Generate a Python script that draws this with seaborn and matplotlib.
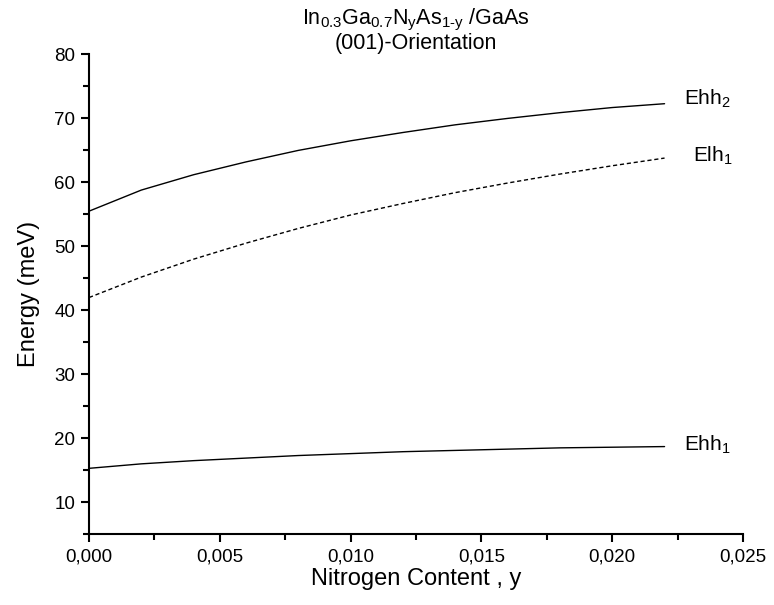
import numpy as np
import pandas as pd
import matplotlib
matplotlib.use('Agg')
import matplotlib.pyplot as plt
import seaborn as sns
from matplotlib.ticker import MultipleLocator, FuncFormatter

# Nitrogen content and subband energies (meV)
nitrogen = [0.000, 0.002, 0.004, 0.006, 0.008, 0.010, 0.012, 0.014, 0.016, 0.018, 0.020, 0.022]
ehh2 = [55.5, 58.8, 61.2, 63.2, 65.0, 66.5, 67.8, 69.0, 70.0, 70.9, 71.7, 72.3]
elh1 = [42.0, 45.2, 48.0, 50.5, 52.8, 54.9, 56.7, 58.4, 59.9, 61.3, 62.6, 63.8]
ehh1 = [15.3, 16.0, 16.5, 16.9, 17.3, 17.6, 17.9, 18.1, 18.3, 18.5, 18.6, 18.7]

sns.set_theme(style='ticks')
plt.rcParams['font.family'] = ['Liberation Sans', 'DejaVu Sans']
plt.rcParams['mathtext.fontset'] = 'custom'
plt.rcParams['mathtext.rm'] = 'Liberation Sans'
plt.rcParams['mathtext.it'] = 'Liberation Sans'
plt.rcParams['mathtext.default'] = 'regular'
plt.rcParams['text.color'] = 'black'
plt.rcParams['axes.labelcolor'] = 'black'

df = pd.DataFrame({'y': nitrogen, 'Ehh2': ehh2, 'Elh1': elh1, 'Ehh1': ehh1})

fig = plt.figure(figsize=(7.74, 6.05), dpi=100)
ax = fig.add_axes([0.115, 0.117, 0.845, 0.793])

sns.lineplot(data=df, x='y', y='Ehh2', ax=ax, color='black', lw=1)
sns.lineplot(data=df, x='y', y='Elh1', ax=ax, color='black', lw=1, linestyle=(0, (3, 2)))
sns.lineplot(data=df, x='y', y='Ehh1', ax=ax, color='black', lw=1)

# curve labels
ax.text(0.02275, 73.0, r'Ehh$_2$', fontsize=15, va='center', ha='left')
ax.text(0.0231, 64.2, r'Elh$_1$', fontsize=15, va='center', ha='left')
ax.text(0.02275, 18.9, r'Ehh$_1$', fontsize=15, va='center', ha='left')

ax.set_xlim(0, 0.025)
ax.set_ylim(5, 80)
ax.xaxis.set_major_locator(MultipleLocator(0.005))
ax.xaxis.set_minor_locator(MultipleLocator(0.0025))
ax.yaxis.set_major_locator(MultipleLocator(10))
ax.yaxis.set_minor_locator(MultipleLocator(5))
ax.xaxis.set_major_formatter(FuncFormatter(lambda v, p: f'{v:.3f}'.replace('.', ',')))
ax.set_yticks([10, 20, 30, 40, 50, 60, 70, 80])

sns.despine(ax=ax)
for s in ['left', 'bottom']:
    ax.spines[s].set_linewidth(1.5)
    ax.spines[s].set_color('black')
ax.tick_params(which='major', direction='out', length=6, width=1.5, labelsize=13.5,
               colors='black', pad=4)
ax.tick_params(which='minor', direction='out', length=4, width=1.5, colors='black')

ax.set_xlabel('Nitrogen Content , y', fontsize=17, labelpad=2)
ax.set_ylabel('Energy (meV)', fontsize=17, labelpad=10)
ax.set_title(r'In$_{0.3}$Ga$_{0.7}$N$_y$As$_{1\text{-}y}$ /GaAs' + '\n(001)-Orientation',
             fontsize=15.5, linespacing=1.05, pad=2)

plt.savefig('out.png', dpi=100)
